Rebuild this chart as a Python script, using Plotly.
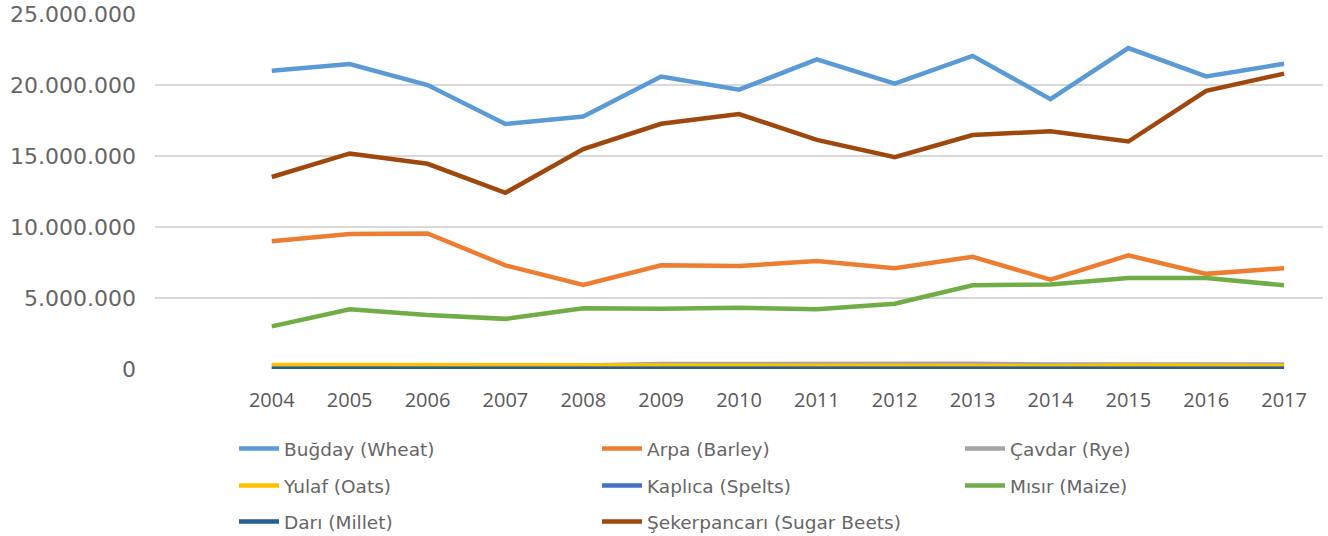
import plotly.graph_objects as go

years = list(range(2004, 2018))

wheat = [21.0, 21.48, 20.0, 17.25, 17.78, 20.6, 19.67, 21.8, 20.1, 22.05, 19.0, 22.6, 20.6, 21.5]
barley = [9.0, 9.5, 9.55, 7.3, 5.92, 7.3, 7.25, 7.6, 7.1, 7.9, 6.3, 8.0, 6.7, 7.1]
rye = [0.27, 0.27, 0.27, 0.25, 0.25, 0.35, 0.37, 0.37, 0.37, 0.37, 0.32, 0.32, 0.32, 0.32]
oats = [0.28, 0.27, 0.27, 0.2, 0.2, 0.2, 0.2, 0.2, 0.2, 0.2, 0.2, 0.25, 0.21, 0.21]
spelts = [0.005, 0.005, 0.005, 0.005, 0.005, 0.005, 0.005, 0.005, 0.005, 0.005, 0.005, 0.005, 0.005, 0.005]
maize = [3.0, 4.2, 3.8, 3.53, 4.27, 4.25, 4.31, 4.2, 4.6, 5.9, 5.95, 6.4, 6.4, 5.9]
millet = [0.01, 0.01, 0.01, 0.01, 0.01, 0.01, 0.01, 0.01, 0.01, 0.01, 0.01, 0.01, 0.01, 0.01]
sugar_beets = [13.52, 15.18, 14.45, 12.41, 15.49, 17.27, 17.95, 16.13, 14.92, 16.48, 16.74, 16.02, 19.59, 20.8]

series = [
    ("Buğday (Wheat)", wheat, "#5B9BD5", "legend"),
    ("Arpa (Barley)", barley, "#ED7D31", "legend"),
    ("Çavdar (Rye)", rye, "#A5A5A5", "legend"),
    ("Yulaf (Oats)", oats, "#FFC000", "legend2"),
    ("Kaplıca (Spelts)", spelts, "#4472C4", "legend2"),
    ("Mısır (Maize)", maize, "#70AD47", "legend2"),
    ("Darı (Millet)", millet, "#255E91", "legend3"),
    ("Şekerpancarı (Sugar Beets)", sugar_beets, "#9E480E", "legend3"),
]

fig = go.Figure()
for name, vals, color, leg in series:
    fig.add_trace(go.Scatter(
        x=years, y=[v * 1_000_000 for v in vals], name=name, mode="lines",
        line=dict(color=color, width=4.5), legend=leg,
    ))

TICKFONT = "DejaVu Sans"
TEXTCOL = "#666666"
W, H = 1328, 536


def row_legend(ypx):
    return dict(
        orientation="h", xref="container", yref="container",
        x=234 / W, y=1 - ypx / H, xanchor="left", yanchor="middle",
        entrywidth=308, entrywidthmode="pixels",
        font=dict(size=18.5, color=TEXTCOL, family=TICKFONT),
        itemwidth=40, bgcolor="rgba(0,0,0,0)",
    )


fig.update_layout(
    width=W, height=H,
    margin=dict(l=155, r=5, t=14, b=167, autoexpand=False),
    paper_bgcolor="white", plot_bgcolor="white",
    separators=",.",
    font=dict(family=TICKFONT, color=TEXTCOL),
    showlegend=True,
    legend=row_legend(449),
    legend2=row_legend(486),
    legend3=row_legend(522),
    xaxis=dict(
        range=[2002.5, 2017.5], tickvals=years, ticktext=[str(y) for y in years],
        showgrid=False, zeroline=False, showline=False, ticks="", automargin=False,
        tickfont=dict(size=20, color="#595959", family="Open Sans"), ticklabelstandoff=17,
    ),
    yaxis=dict(
        range=[0, 25_000_000], tickvals=[0, 5e6, 10e6, 15e6, 20e6, 25e6],
        tickformat=",d", showgrid=True, gridcolor="#D9D9D9", gridwidth=1.5,
        zeroline=False, showline=False, ticks="", automargin=False,
        ticklabeloverflow="allow",
        tickfont=dict(size=22, color=TEXTCOL, family=TICKFONT), ticklabelstandoff=18,
    ),
)

fig.write_html(
    "out.html",
    config={"displayModeBar": False},
    post_script="document.body.style.margin='0';document.body.style.overflow='hidden';",
)
